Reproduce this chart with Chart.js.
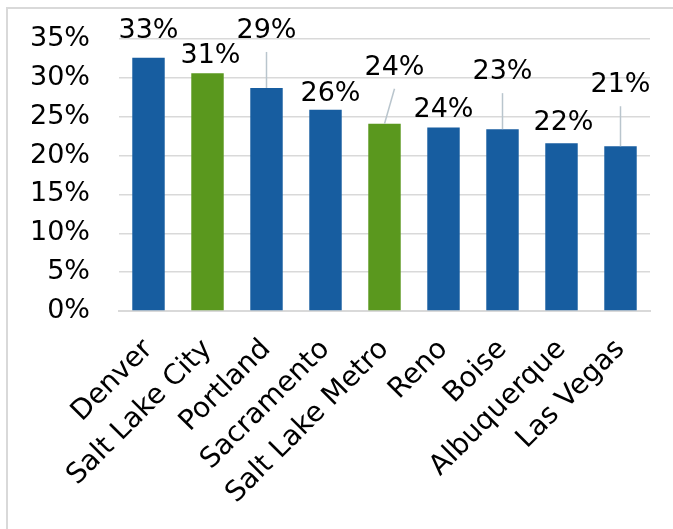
<!DOCTYPE html>
<html>
<head>
<meta charset="utf-8">
<script src="https://cdn.jsdelivr.net/npm/chart.js@4/dist/chart.umd.min.js"></script>
<style>
  body { margin: 0; background: #fff; }
  #wrap { position: relative; width: 673px; height: 529px; overflow: hidden; }
  #frame { position: absolute; left: 6px; top: 7px; width: 700px; height: 600px; border: 2px solid #d9d9d9; }
  canvas { position: absolute; left: 0; top: 0; }
</style>
</head>
<body>
<div id="wrap">
  <div id="frame"></div>
  <canvas id="chart" width="673" height="529"></canvas>
</div>
<script>
const cities = ['Denver', 'Salt Lake City', 'Portland', 'Sacramento', 'Salt Lake Metro', 'Reno', 'Boise', 'Albuquerque', 'Las Vegas'];
const shares = [32.6, 30.6, 28.7, 25.9, 24.1, 23.6, 23.4, 21.6, 21.2];
const yTicks = [0, 5, 10, 15, 20, 25, 30, 35];

const blue = '#175da0';
const green = '#5a981e';
const barColors = cities.map(c => c.startsWith('Salt Lake') ? green : blue);

// where Excel placed each data label, relative to the bar top (px)
const labelOffsets = [[0, -27], [3, -17], [0, -57], [5, -16], [10, -56], [0, -18], [0, -57], [2, -20], [0, -61]];

const font = 'DejaVu Sans';

const barLabels = {
  id: 'barLabels',
  afterDatasetsDraw(chart) {
    const ctx = chart.ctx;
    const meta = chart.getDatasetMeta(0);
    ctx.save();
    ctx.font = '27px "' + font + '"';
    ctx.textAlign = 'center';
    ctx.textBaseline = 'middle';
    meta.data.forEach((bar, i) => {
      const [dx, dy] = labelOffsets[i];
      const lx = bar.x + dx, ly = bar.y + dy;
      if (dy < -40) {
        ctx.strokeStyle = '#b9c5cd';
        ctx.lineWidth = 1.5;
        ctx.beginPath();
        ctx.moveTo(lx, ly + 21);
        ctx.lineTo(bar.x, bar.y);
        ctx.stroke();
      }
      ctx.fillStyle = '#000';
      ctx.fillText(Math.round(shares[i]) + '%', lx, ly);
    });
    ctx.restore();
  }
};

new Chart(document.getElementById('chart'), {
  type: 'bar',
  data: {
    labels: cities,
    datasets: [{
      data: shares,
      backgroundColor: barColors,
      barPercentage: 0.55,
      categoryPercentage: 1
    }]
  },
  options: {
    responsive: false,
    animation: false,
    layout: { padding: { top: 39, right: 23, left: 0, bottom: 0 } },
    plugins: { legend: { display: false }, tooltip: { enabled: false } },
    scales: {
      x: {
        grid: { display: false },
        border: { color: '#d9d9d9', width: 2 },
        ticks: {
          autoSkip: false, minRotation: 45, maxRotation: 45,
          color: '#000', padding: 14,
          font: { family: font, size: 28 }
        },
        afterFit(scale) { scale.height = 218; }
      },
      y: {
        min: 0, max: 35,
        afterBuildTicks(scale) { scale.ticks = yTicks.map(v => ({ value: v })); },
        ticks: {
          callback: v => v + '%',
          color: '#000', padding: 29,
          font: { family: font, size: 27 }
        },
        grid: { color: '#d9d9d9', lineWidth: 1.5, drawTicks: false },
        border: { display: false },
        afterFit(scale) {
          scale.width = 119;
          scale.paddingTop = 16;
          scale.paddingBottom = 16;
        }
      }
    }
  },
  plugins: [barLabels]
});
</script>
</body>
</html>
